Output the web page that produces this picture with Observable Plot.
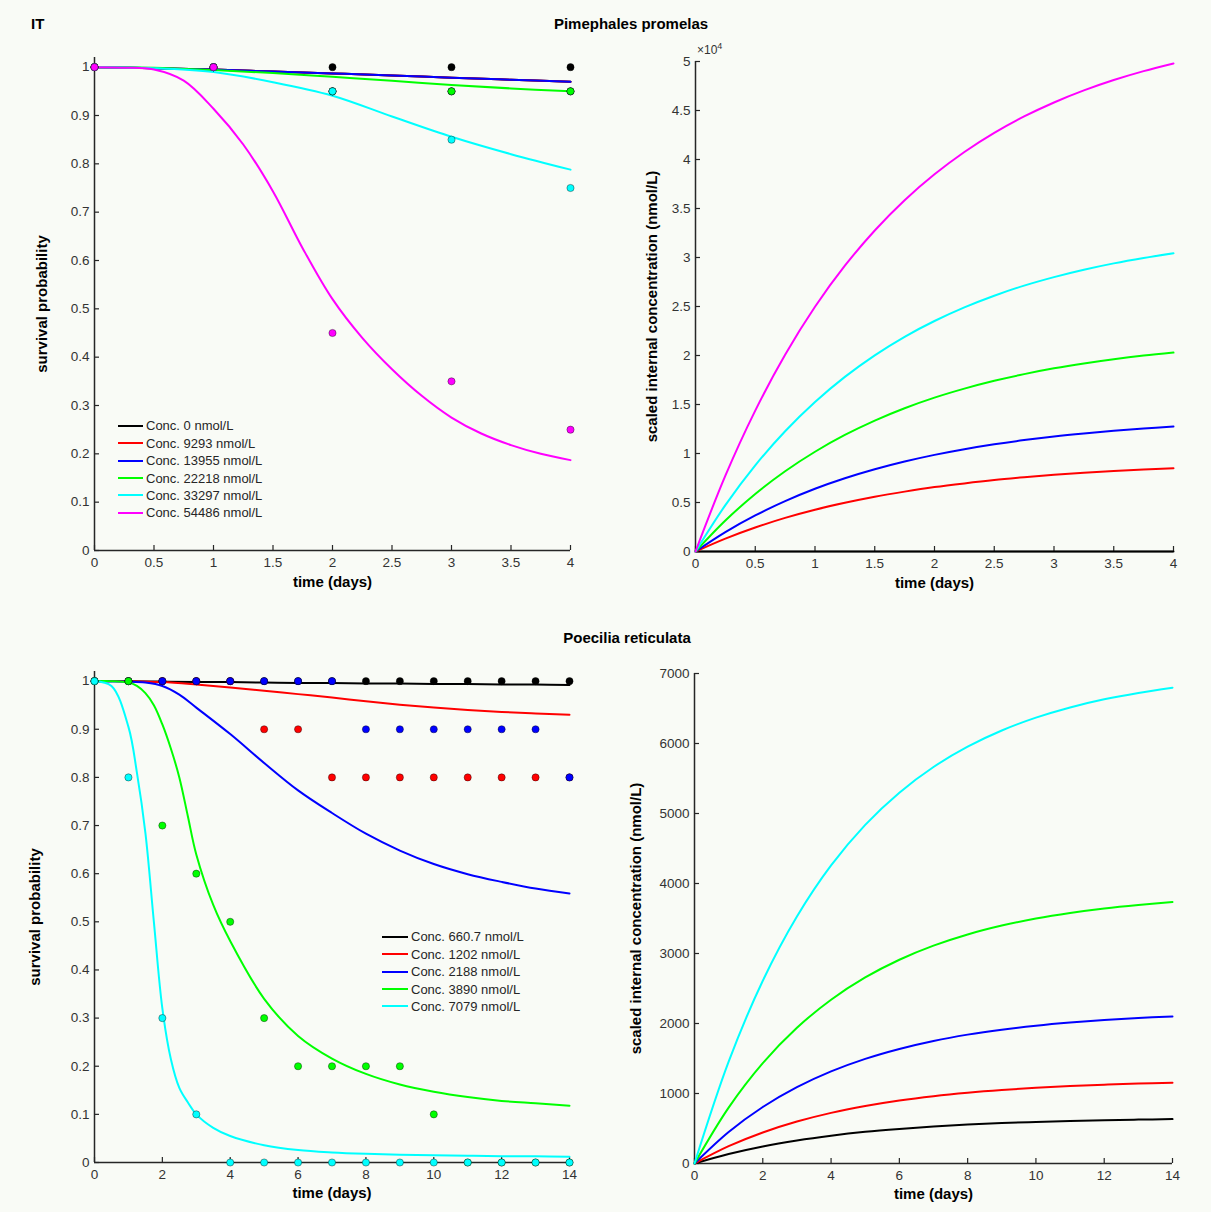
<!DOCTYPE html>
<html><head><meta charset="utf-8">
<script src="https://cdn.jsdelivr.net/npm/d3@7"></script>
<script src="https://cdn.jsdelivr.net/npm/@observablehq/plot@0.6"></script>
<style>
html,body{margin:0;padding:0;background:#f9fbf6;}
#root{position:relative;width:1211px;height:1212px;overflow:hidden;background:#f9fbf6;font-family:"Liberation Sans",Arial,sans-serif;}
.panel{position:absolute;}
.title{position:absolute;font-weight:bold;font-size:15px;line-height:16px;color:#000;white-space:nowrap;}
.legend{position:absolute;font-size:13px;color:#262626;}
.legend .row{display:flex;align-items:center;height:17.45px;white-space:nowrap;}
.legend .sw{height:2px;margin-right:3px;}
.exp{position:absolute;font-size:12px;line-height:14px;color:#333;white-space:nowrap;}
.exp sup{font-size:9px;vertical-align:5px;line-height:0;}
</style>
</head><body>
<div id="root">
  <div class="title" style="left:31px;top:16px;">IT</div>
  <div class="title" style="left:631px;top:16px;transform:translateX(-50%);">Pimephales promelas</div>
  <div class="title" style="left:627px;top:630px;transform:translateX(-50%);">Poecilia reticulata</div>
  <div class="panel" id="p1" style="left:0px;top:30px;"></div>
  <div class="panel" id="p2" style="left:600px;top:30px;"></div>
  <div class="panel" id="p3" style="left:0px;top:620px;"></div>
  <div class="panel" id="p4" style="left:600px;top:620px;"></div>
  <div class="exp" style="left:697px;top:43px;">×10<sup>4</sup></div>
  <div class="legend" id="leg1" style="left:118px;top:417px;"></div>
  <div class="legend" id="leg2" style="left:382px;top:928px;"></div>
</div>
<script>
// ---------- common ----------
const seriesColors = ["#000000", "#ff0000", "#0000ff", "#00ff00", "#00ffff", "#ff00ff"];

// ---------- Pimephales promelas ----------
const ppLabels = ["Conc. 0 nmol/L", "Conc. 9293 nmol/L", "Conc. 13955 nmol/L", "Conc. 22218 nmol/L", "Conc. 33297 nmol/L", "Conc. 54486 nmol/L"];
// observed survival
const ppObsT = [0, 1, 2, 3, 4];
const ppObs0 = [1, 1, 1, 1, 1];
const ppObs9293 = [1, 1, 0.95, 0.95, 0.95];
const ppObs13955 = [1, 1, 0.95, 0.95, 0.95];
const ppObs22218 = [1, 1, 0.95, 0.95, 0.95];
const ppObs33297 = [1, 1, 0.95, 0.85, 0.75];
const ppObs54486 = [1, 1, 0.45, 0.35, 0.25];
// fitted survival
const ppFitT = [0, 0.5, 1, 1.5, 2, 2.5, 3, 3.5, 4];
const ppFit0 = [1, 0.998, 0.995, 0.991, 0.987, 0.983, 0.978, 0.974, 0.97];
const ppFit9293 = [1, 0.998, 0.995, 0.991, 0.987, 0.983, 0.978, 0.974, 0.97];
const ppFit13955 = [1, 0.998, 0.995, 0.991, 0.987, 0.983, 0.978, 0.974, 0.97];
const ppFit22218 = [1, 0.999, 0.994, 0.988, 0.98, 0.972, 0.963, 0.956, 0.95];
const ppFit33297 = [1, 0.998, 0.99, 0.969, 0.941, 0.898, 0.856, 0.82, 0.788];
const ppFitFineT = [0, 0.25, 0.5, 0.75, 1, 1.25, 1.5, 1.75, 2, 2.25, 2.5, 2.75, 3, 3.25, 3.5, 3.75, 4];
const ppFit54486 = [1, 0.999, 0.995, 0.972, 0.914, 0.84, 0.743, 0.625, 0.52, 0.44, 0.375, 0.32, 0.275, 0.242, 0.218, 0.2, 0.187];
// scaled internal concentration (nmol/L)
const ppIntT = [0, 0.25, 0.5, 0.75, 1, 1.25, 1.5, 1.75, 2, 2.25, 2.5, 2.75, 3, 3.25, 3.5, 3.75, 4];
const ppInt0 = [0, 0, 0, 0, 0, 0, 0, 0, 0, 0, 0, 0, 0, 0, 0, 0, 0];
const ppInt9293 = [0, 1320, 2450, 3430, 4260, 4970, 5590, 6110, 6570, 6950, 7290, 7570, 7820, 8030, 8210, 8360, 8490];
const ppInt13955 = [0, 1980, 3680, 5140, 6400, 7470, 8390, 9180, 9860, 10440, 10940, 11370, 11740, 12050, 12320, 12550, 12750];
const ppInt22218 = [0, 3160, 5870, 8190, 10180, 11890, 13360, 14620, 15700, 16620, 17420, 18100, 18690, 19190, 19620, 19990, 20300];
const ppInt33297 = [0, 4730, 8790, 12270, 15260, 17820, 20020, 21910, 23520, 24910, 26100, 27130, 28000, 28750, 29400, 29950, 30430];
const ppInt54486 = [0, 7740, 14380, 20080, 24970, 29160, 32760, 35850, 38490, 40770, 42720, 44390, 45820, 47050, 48110, 49020, 49800];

// ---------- Poecilia reticulata ----------
const prLabels = ["Conc. 660.7 nmol/L", "Conc. 1202 nmol/L", "Conc. 2188 nmol/L", "Conc. 3890 nmol/L", "Conc. 7079 nmol/L"];
const prColors = ["#000000", "#ff0000", "#0000ff", "#00ff00", "#00ffff"];
// observed survival
const prObsT = [0, 1, 2, 3, 4, 5, 6, 7, 8, 9, 10, 11, 12, 13, 14];
const prObs660 = [1, 1, 1, 1, 1, 1, 1, 1, 1, 1, 1, 1, 1, 1, 1];
const prObs1202 = [1, 1, 1, 1, 1, 0.9, 0.9, 0.8, 0.8, 0.8, 0.8, 0.8, 0.8, 0.8, 0.8];
const prObs2188 = [1, 1, 1, 1, 1, 1, 1, 1, 0.9, 0.9, 0.9, 0.9, 0.9, 0.9, 0.8];
const prObs3890 = [1, 1, 0.7, 0.6, 0.5, 0.3, 0.2, 0.2, 0.2, 0.2, 0.1, 0, 0, 0, 0];
const prObs7079 = [1, 0.8, 0.3, 0.1, 0, 0, 0, 0, 0, 0, 0, 0, 0, 0, 0];
// fitted survival
const prFitT = [0, 1, 2, 3, 4, 5, 6, 7, 8, 9, 10, 11, 12, 13, 14];
const prFit660 = [1, 1, 0.999, 0.998, 0.998, 0.997, 0.996, 0.996, 0.995, 0.995, 0.994, 0.994, 0.993, 0.993, 0.992];
const prFit1202 = [1, 1, 0.998, 0.993, 0.987, 0.98, 0.973, 0.966, 0.958, 0.951, 0.945, 0.94, 0.936, 0.933, 0.93];
const prFitBlueT = [0, 1, 1.5, 2, 2.5, 3, 4, 5, 6, 7, 8, 9, 10, 11, 12, 13, 14];
const prFit2188 = [1, 0.999, 0.997, 0.99, 0.972, 0.945, 0.89, 0.83, 0.773, 0.726, 0.683, 0.648, 0.62, 0.599, 0.583, 0.569, 0.559];
const prFitFineT = [0, 0.5, 1, 1.25, 1.5, 1.75, 2, 2.25, 2.5, 2.75, 3, 3.5, 4, 5, 6, 7, 8, 9, 10, 11, 12, 13, 14];
const prFit3890 = [1, 1, 0.997, 0.99, 0.975, 0.95, 0.91, 0.86, 0.8, 0.72, 0.64, 0.535, 0.46, 0.34, 0.263, 0.216, 0.184, 0.162, 0.147, 0.136, 0.128, 0.123, 0.118];
const prFit7079 = [1, 0.99, 0.905, 0.81, 0.685, 0.5, 0.32, 0.215, 0.155, 0.125, 0.1, 0.072, 0.055, 0.036, 0.026, 0.021, 0.018, 0.016, 0.015, 0.014, 0.013, 0.013, 0.012];
// scaled internal concentration (nmol/L)
const prIntT = [0, 1, 2, 3, 4, 5, 6, 7, 8, 9, 10, 11, 12, 13, 14];
const prInt660 = [0, 136, 244, 329, 397, 452, 494, 529, 556, 577, 594, 608, 619, 627, 634];
const prInt1202 = [0, 247, 443, 599, 723, 821, 900, 962, 1011, 1050, 1081, 1106, 1126, 1142, 1154];
const prInt2188 = [0, 450, 807, 1091, 1316, 1495, 1637, 1751, 1841, 1912, 1969, 2014, 2050, 2078, 2101];
const prInt3890 = [0, 799, 1434, 1939, 2340, 2658, 2911, 3112, 3272, 3399, 3500, 3580, 3644, 3694, 3735];
const prInt7079 = [0, 1455, 2610, 3528, 4258, 4838, 5298, 5664, 5955, 6186, 6369, 6515, 6631, 6723, 6797];

// tick values
const ppXTicks = [0, 0.5, 1, 1.5, 2, 2.5, 3, 3.5, 4];
const prXTicks = [0, 2, 4, 6, 8, 10, 12, 14];
const survYTicks = [0, 0.1, 0.2, 0.3, 0.4, 0.5, 0.6, 0.7, 0.8, 0.9, 1];
const ppIntYTicks = [0, 5000, 10000, 15000, 20000, 25000, 30000, 35000, 40000, 45000, 50000];
const prIntYTicks = [0, 1000, 2000, 3000, 4000, 5000, 6000, 7000];

// ---------- helpers ----------
const zip = (t, v) => t.map((x, i) => ({t: x, v: v[i]}));
const AX = "#262626";
const TICK_TXT = "#333333";

function panel({width, height, margins, xDomain, yDomain, xTicks, yTicks, yFormat, lines, dots, yLabel, yLabelDx, xLabelDy}) {
  const marks = [];
  // axis lines
  marks.push(Plot.ruleX([xDomain[0]], {stroke: AX, strokeWidth: 1.5}));
  marks.push(Plot.ruleY([yDomain[0]], {stroke: AX, strokeWidth: 1.5}));
  // inward ticks
  marks.push(Plot.ruleX(xTicks, {x: d => d, y1: yDomain[0], y2: yDomain[0], insetBottom: 5, stroke: AX, strokeWidth: 1.2}));
  marks.push(Plot.ruleY(yTicks, {y: d => d, x1: xDomain[0], x2: xDomain[0], insetRight: -5, stroke: AX, strokeWidth: 1.2}));
  // tick labels
  marks.push(Plot.axisX({ticks: xTicks, tickSize: 0, tickPadding: 7, label: null, color: TICK_TXT, tickFormat: d => String(d)}));
  marks.push(Plot.axisY({ticks: yTicks, tickSize: 0, tickPadding: 5, label: null, color: TICK_TXT, tickFormat: yFormat}));
  // data
  for (const l of lines) marks.push(Plot.line(l.data, {x: "t", y: "v", stroke: l.color, strokeWidth: 2, curve: "catmull-rom"}));
  for (const d of dots) marks.push(Plot.dot(d.data, {x: "t", y: "v", r: 3.6, fill: d.color, stroke: "#000", strokeWidth: 0.7, strokeOpacity: 0.55}));
  // axis titles
  marks.push(Plot.text(["time (days)"], {text: d => d, frameAnchor: "bottom", dy: xLabelDy, lineAnchor: "middle", textAnchor: "middle", fontWeight: "bold", fontSize: 15, fill: "#000"}));
  marks.push(Plot.text([yLabel], {text: d => d, frameAnchor: "left", dx: yLabelDx, rotate: -90, lineAnchor: "middle", textAnchor: "middle", fontWeight: "bold", fontSize: 15, fill: "#000"}));
  return Plot.plot({
    width, height,
    marginLeft: margins[0], marginRight: margins[1], marginTop: margins[2], marginBottom: margins[3],
    x: {domain: xDomain, axis: null},
    y: {domain: yDomain, axis: null},
    style: {background: "transparent", fontFamily: "Liberation Sans, Arial, sans-serif", fontSize: "13.5px", overflow: "visible"},
    marks
  });
}

// ---------- panel 1: P. promelas survival ----------
const ppFitSeries = [zip(ppFitT, ppFit0), zip(ppFitT, ppFit9293), zip(ppFitT, ppFit13955), zip(ppFitT, ppFit22218), zip(ppFitT, ppFit33297), zip(ppFitFineT, ppFit54486)];
const ppObsSeries = [ppObs0, ppObs9293, ppObs13955, ppObs22218, ppObs33297, ppObs54486].map(v => zip(ppObsT, v));
document.getElementById("p1").append(panel({
  width: 600, height: 580, margins: [94, 30, 27, 60],
  xDomain: [0, 4], yDomain: [0, 1.02], xTicks: ppXTicks, yTicks: survYTicks, yFormat: d => String(d),
  lines: ppFitSeries.map((data, i) => ({data, color: seriesColors[i]})),
  dots: ppObsSeries.map((data, i) => ({data, color: seriesColors[i]})),
  yLabel: "survival probability", yLabelDx: -52, xLabelDy: 32
}));

// ---------- panel 2: P. promelas internal concentration ----------
const ppIntSeries = [ppInt0, ppInt9293, ppInt13955, ppInt22218, ppInt33297, ppInt54486].map(v => zip(ppIntT, v));
document.getElementById("p2").append(panel({
  width: 611, height: 580, margins: [95, 38, 31, 59],
  xDomain: [0, 4], yDomain: [0, 50000], xTicks: ppXTicks, yTicks: ppIntYTicks, yFormat: d => String(d / 10000),
  lines: ppIntSeries.map((data, i) => ({data, color: seriesColors[i]})),
  dots: [],
  yLabel: "scaled internal concentration (nmol/L)", yLabelDx: -43, xLabelDy: 32
}));

// ---------- panel 3: P. reticulata survival ----------
const prFitSeries = [zip(prFitT, prFit660), zip(prFitT, prFit1202), zip(prFitBlueT, prFit2188), zip(prFitFineT, prFit3890), zip(prFitFineT, prFit7079)];
const prObsSeries = [prObs660, prObs1202, prObs2188, prObs3890, prObs7079].map(v => zip(prObsT, v));
document.getElementById("p3").append(panel({
  width: 600, height: 590, margins: [94, 31, 51, 48],
  xDomain: [0, 14], yDomain: [0, 1.02], xTicks: prXTicks, yTicks: survYTicks, yFormat: d => String(d),
  lines: prFitSeries.map((data, i) => ({data, color: prColors[i]})),
  dots: prObsSeries.map((data, i) => ({data, color: prColors[i]})),
  yLabel: "survival probability", yLabelDx: -59, xLabelDy: 31
}));

// ---------- panel 4: P. reticulata internal concentration ----------
const prIntSeries = [prInt660, prInt1202, prInt2188, prInt3890, prInt7079].map(v => zip(prIntT, v));
document.getElementById("p4").append(panel({
  width: 611, height: 590, margins: [94, 39, 53, 47],
  xDomain: [0, 14], yDomain: [0, 7000], xTicks: prXTicks, yTicks: prIntYTicks, yFormat: d => String(d),
  lines: prIntSeries.map((data, i) => ({data, color: prColors[i]})),
  dots: [],
  yLabel: "scaled internal concentration (nmol/L)", yLabelDx: -58, xLabelDy: 31
}));

// ---------- legends ----------
function legend(id, labels, colors, swatch) {
  const el = document.getElementById(id);
  labels.forEach((lab, i) => {
    const row = document.createElement("div");
    row.className = "row";
    const sw = document.createElement("div");
    sw.className = "sw";
    sw.style.width = swatch + "px";
    sw.style.background = colors[i];
    const tx = document.createElement("span");
    tx.textContent = lab;
    row.append(sw, tx);
    el.append(row);
  });
}
legend("leg1", ppLabels, seriesColors, 25);
legend("leg2", prLabels, prColors, 26);
</script>
</body></html>
